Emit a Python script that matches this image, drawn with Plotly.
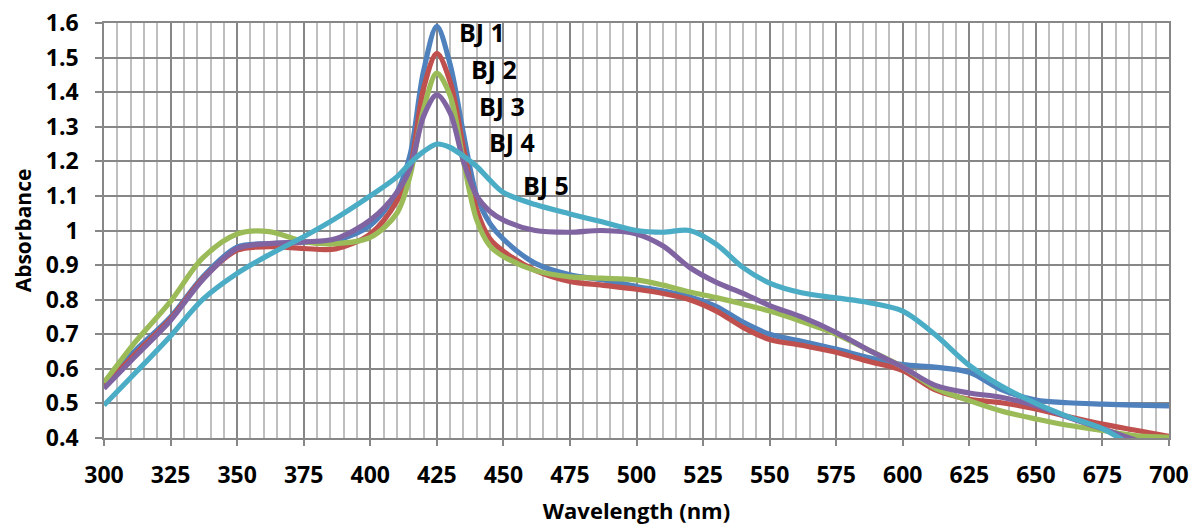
import plotly.graph_objects as go

wavelength = [300, 312, 325, 337, 350, 362, 375, 387, 400, 410, 415, 420, 425, 430, 435,
              440, 445, 450, 462, 475, 487, 500, 510, 520, 530, 540, 550, 562, 575, 587,
              600, 612, 625, 637, 650, 662, 675, 687, 700]

bj1 = [0.56, 0.655, 0.75, 0.865, 0.952, 0.962, 0.966, 0.972, 1.015, 1.11, 1.22, 1.46, 1.59, 1.48, 1.28,
       1.10, 1.02, 0.975, 0.905, 0.872, 0.858, 0.838, 0.825, 0.808, 0.78, 0.735, 0.70, 0.68, 0.657, 0.633,
       0.612, 0.605, 0.59, 0.54, 0.51, 0.502, 0.498, 0.495, 0.493]
bj2 = [0.55, 0.645, 0.745, 0.86, 0.943, 0.953, 0.948, 0.947, 0.99, 1.085, 1.18, 1.41, 1.512, 1.43, 1.24,
       1.06, 0.975, 0.94, 0.885, 0.853, 0.842, 0.83, 0.818, 0.80, 0.767, 0.72, 0.685, 0.668, 0.648, 0.622,
       0.595, 0.54, 0.512, 0.502, 0.484, 0.462, 0.44, 0.423, 0.405]
bj3 = [0.56, 0.68, 0.795, 0.92, 0.99, 0.997, 0.968, 0.962, 0.98, 1.05, 1.16, 1.35, 1.455, 1.39, 1.20,
       1.03, 0.955, 0.925, 0.884, 0.866, 0.862, 0.857, 0.842, 0.822, 0.806, 0.787, 0.767, 0.737, 0.70, 0.655,
       0.605, 0.545, 0.508, 0.478, 0.455, 0.437, 0.422, 0.407, 0.402]
bj4 = [0.543, 0.638, 0.74, 0.857, 0.948, 0.962, 0.967, 0.976, 1.03, 1.11, 1.18, 1.33, 1.392, 1.34, 1.20,
       1.10, 1.055, 1.03, 1.0, 0.995, 1.0, 0.99, 0.955, 0.893, 0.85, 0.818, 0.783, 0.75, 0.705, 0.655,
       0.605, 0.553, 0.53, 0.518, 0.493, 0.46, 0.427, 0.395, 0.36]
bj5 = [0.495, 0.59, 0.695, 0.80, 0.876, 0.93, 0.982, 1.035, 1.10, 1.155, 1.195, 1.228, 1.25, 1.24, 1.215,
       1.185, 1.145, 1.11, 1.075, 1.048, 1.025, 1.0, 0.995, 1.0, 0.96, 0.893, 0.848, 0.82, 0.805, 0.792,
       0.767, 0.70, 0.61, 0.55, 0.50, 0.462, 0.427, 0.375, 0.33]

series_names = ["BJ 1", "BJ 2", "BJ 3", "BJ 4", "BJ 5"]
series_colors = ["#4F81BD", "#C0504D", "#9BBB59", "#8064A2", "#4BACC6"]
label_x = [442.0, 446.5, 449.5, 453.2, 466.0]
label_y = [1.574, 1.467, 1.36, 1.256, 1.131]

fig = go.Figure()
for name, ys, col in zip(series_names, [bj1, bj2, bj3, bj4, bj5], series_colors):
    fig.add_trace(go.Scatter(x=wavelength, y=ys, mode="lines", name=name,
                             line=dict(color=col, width=5.2, shape="spline", smoothing=0.9)))

for name, lx, ly in zip(series_names, label_x, label_y):
    fig.add_annotation(x=lx, y=ly, text=name, showarrow=False, xref="x", yref="y",
                       font=dict(family="Open Sans", size=25, color="black", weight="bold"))

fig.update_layout(
    width=1193, height=525,
    margin=dict(l=104, r=24, t=23, b=87),
    paper_bgcolor="white", plot_bgcolor="white",
    showlegend=False,
    font=dict(family="Open Sans", color="black"),
)
fig.update_xaxes(
    range=[300, 700], tick0=300, dtick=25, automargin=False,
    showgrid=True, gridcolor="#878787", gridwidth=1.5,
    minor=dict(dtick=5, showgrid=True, gridcolor="#BFBFBF", gridwidth=1.5),
    ticks="outside", ticklen=6, tickcolor="#878787", tickwidth=1.5,
    ticklabelstandoff=10,
    showline=True, linecolor="#878787", linewidth=1.5, mirror=True,
    zeroline=False,
    tickfont=dict(family="Open Sans", size=23, color="black", weight="bold"),
    title=dict(text="Wavelength (nm)", standoff=18,
               font=dict(family="Open Sans", size=22, color="black", weight="bold")),
)
fig.update_yaxes(
    range=[0.4, 1.6], tick0=0.4, dtick=0.1, automargin=False,
    showgrid=True, gridcolor="#878787", gridwidth=1.5,
    ticks="outside", ticklen=7, tickcolor="#878787", tickwidth=1.5,
    ticklabelstandoff=12,
    showline=True, linecolor="#878787", linewidth=1.5, mirror=True,
    zeroline=False,
    tickfont=dict(family="Open Sans", size=23, color="black", weight="bold"),
    title=dict(text="Absorbance", standoff=8,
               font=dict(family="Open Sans", size=21, color="black", weight="bold")),
)

fig.write_html("out.html")
